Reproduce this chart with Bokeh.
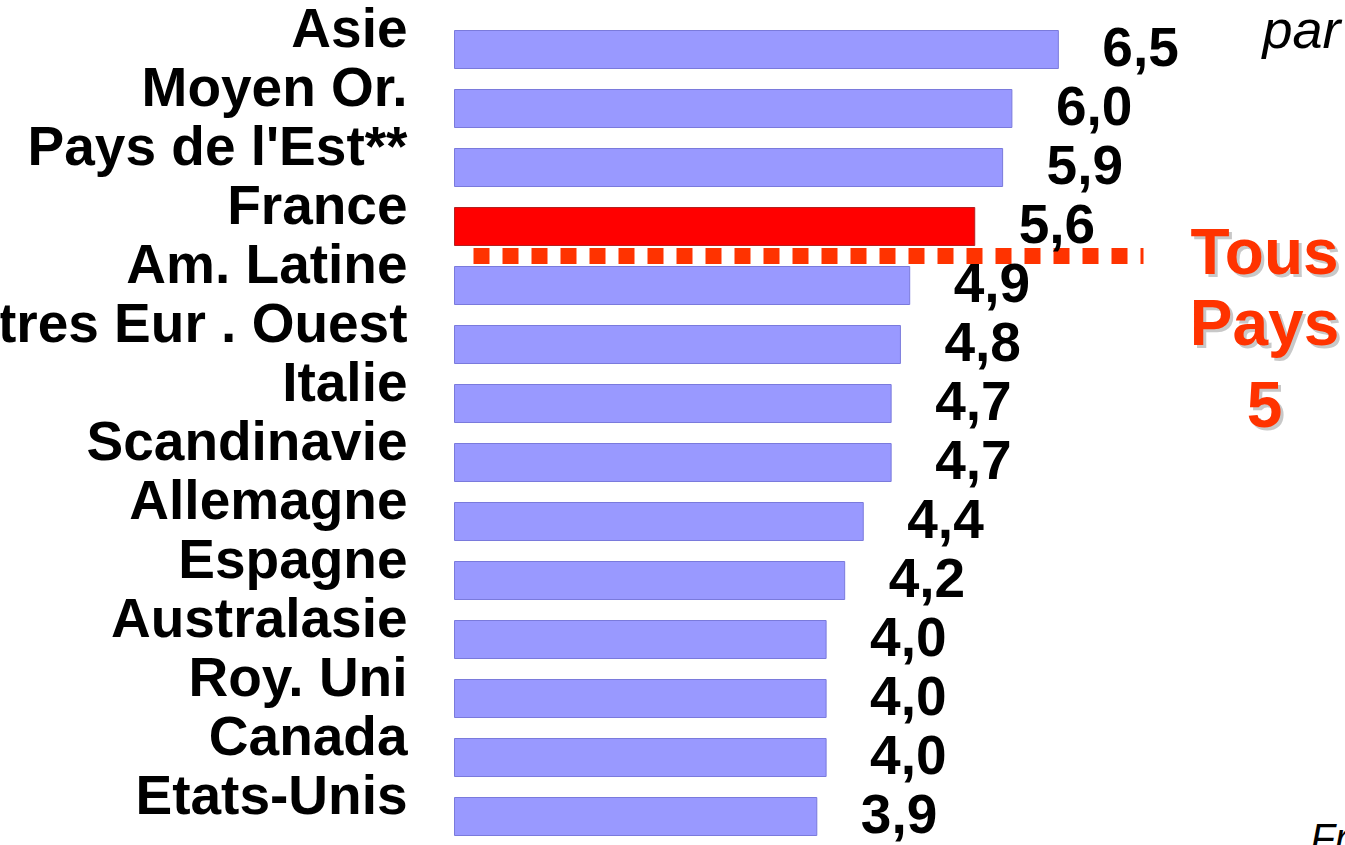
from bokeh.plotting import figure
from bokeh.models import Range1d, ColumnDataSource
from bokeh.core.properties import value
from bokeh.embed import file_html
from bokeh.resources import INLINE

# ---- data ----
categories = ["Asie", "Moyen Or.", "Pays de l'Est**", "France", "Am. Latine",
              "Autres Eur . Ouest", "Italie", "Scandinavie", "Allemagne",
              "Espagne", "Australasie", "Roy. Uni", "Canada", "Etats-Unis"]
values = [6.5, 6.0, 5.9, 5.6, 4.9, 4.8, 4.7, 4.7, 4.4, 4.2, 4.0, 4.0, 4.0, 3.9]
highlight = "France"
average_value = 5
average_lines = ["Tous", "Pays", str(average_value)]
corner_text = "par"
footer_text = "Fr"

# ---- layout constants (pixels) ----
W, H = 1345, 845
X0_PX = 454.0        # pixel of value 0
PX_PER_UNIT = 92.9   # pixels per unit of value
ROW0_PX = 49.0       # pixel centre of first row
ROW_PX = 59.0        # pixels between rows
BASE_SHIFT = 0.42    # renderer baseline correction, in em


def px2x(px):
    return (px - X0_PX) / PX_PER_UNIT


def px2y(py):
    return (py - ROW0_PX) / ROW_PX


FONT = value("Liberation Sans")
LBL_SIZE = 55
AVG_SIZE = 64

idx = list(range(len(categories)))
fills = ["#FF0000" if c == highlight else "#9999FF" for c in categories]
lines = ["#B22222" if c == highlight else "#7A7ADC" for c in categories]
val_text = [f"{v:.1f}".replace(".", ",") for v in values]

src = ColumnDataSource(dict(idx=idx, cat=categories, val=values,
                            fill=fills, line=lines, vt=val_text))

p = figure(width=W, height=H,
           x_range=Range1d(px2x(0), px2x(W)),
           y_range=Range1d(px2y(H), px2y(0)),
           output_backend="svg", toolbar_location=None,
           x_axis_type=None, y_axis_type=None,
           min_border=0, min_border_left=0, min_border_right=0,
           min_border_top=0, min_border_bottom=0,
           background_fill_color="white", border_fill_color="white",
           outline_line_color=None)
p.grid.visible = False

p.hbar(y="idx", left=0, right="val", height=38 / ROW_PX,
       fill_color="fill", line_color="line", line_width=1, source=src)

# dotted separator between highlighted bar and the next row
hi = categories.index(highlight) + 0.5
p.segment(x0=[px2x(473)], x1=[px2x(1143)], y0=[hi], y1=[hi],
          line_color="#FF3300", line_width=16, line_dash="16 13",
          line_cap="butt")

# category labels
p.text(x=0, y="idx", text="cat", source=src, x_offset=-47,
       y_offset=2 - BASE_SHIFT * LBL_SIZE,
       text_align="right", text_baseline="alphabetic",
       text_font=FONT, text_font_style="bold", text_font_size=f"{LBL_SIZE}px",
       text_color="black")

# value labels
p.text(x="val", y="idx", text="vt", source=src, x_offset=44,
       y_offset=21 - BASE_SHIFT * LBL_SIZE,
       text_align="left", text_baseline="alphabetic",
       text_font=FONT, text_font_style="bold", text_font_size=f"{LBL_SIZE}px",
       text_color="black")

# "Tous Pays 5"
avg_baselines = [278, 349, 431]
avg_x = [px2x(1264)] * 3
avg_y = [px2y(b) for b in avg_baselines]
sh = BASE_SHIFT * AVG_SIZE
p.text(x=avg_x, y=avg_y, text=average_lines, x_offset=3, y_offset=3 - sh,
       text_align="center", text_baseline="alphabetic",
       text_font=FONT, text_font_style="bold", text_font_size=f"{AVG_SIZE}px",
       text_color="#9A9A9A", text_alpha=0.55)
p.text(x=avg_x, y=avg_y, text=average_lines, y_offset=-sh,
       text_align="center", text_baseline="alphabetic",
       text_font=FONT, text_font_style="bold", text_font_size=f"{AVG_SIZE}px",
       text_color="#FF3300")

# corner texts
p.text(x=[px2x(1262)], y=[px2y(51)], text=[corner_text],
       y_offset=-BASE_SHIFT * 54,
       text_align="left", text_baseline="alphabetic",
       text_font=FONT, text_font_style="italic", text_font_size="54px",
       text_color="black")
p.text(x=[px2x(1310)], y=[px2y(854)], text=[footer_text],
       y_offset=-BASE_SHIFT * 40,
       text_align="left", text_baseline="alphabetic",
       text_font=FONT, text_font_style="italic", text_font_size="40px",
       text_color="black")

open("out.html", "w").write(file_html(p, INLINE))
